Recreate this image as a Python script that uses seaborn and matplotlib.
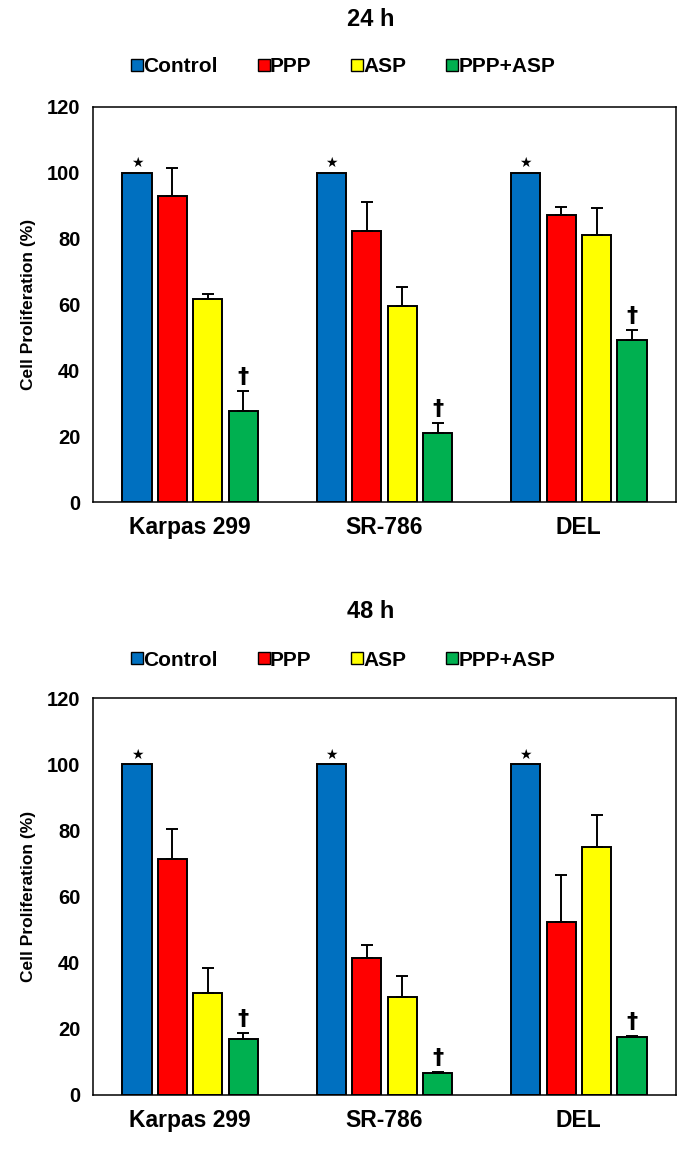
import pandas as pd
import numpy as np
import matplotlib
matplotlib.use('Agg')
import matplotlib.pyplot as plt
from matplotlib.lines import Line2D
import seaborn as sns

# data
cell_lines = ['Karpas 299', 'SR-786', 'DEL']
treatments = ['Control', 'PPP', 'ASP', 'PPP+ASP']
colors = ['#0070C0', '#FF0000', '#FFFF00', '#00B050']

control_24h = [100, 100, 100]
ppp_24h = [92.9, 82.4, 87.3]
asp_24h = [61.6, 59.5, 81.1]
combo_24h = [27.5, 20.9, 49.2]
control_err_24h = [0, 0, 0]
ppp_err_24h = [8.5, 8.8, 2.4]
asp_err_24h = [1.7, 5.9, 8.1]
combo_err_24h = [6.3, 3.1, 3.2]

control_48h = [100, 100, 100]
ppp_48h = [71.3, 41.5, 52.3]
asp_48h = [30.9, 29.5, 74.9]
combo_48h = [16.9, 6.5, 17.5]
control_err_48h = [0, 0, 0]
ppp_err_48h = [9.1, 3.8, 14.1]
asp_err_48h = [7.4, 6.5, 9.7]
combo_err_48h = [1.9, 0.6, 0.3]

panels = [
    ('24 h', [control_24h, ppp_24h, asp_24h, combo_24h],
     [control_err_24h, ppp_err_24h, asp_err_24h, combo_err_24h]),
    ('48 h', [control_48h, ppp_48h, asp_48h, combo_48h],
     [control_err_48h, ppp_err_48h, asp_err_48h, combo_err_48h]),
]

sns.set_style('white')
plt.rcParams['font.family'] = ['Liberation Sans', 'DejaVu Sans']
plt.rcParams['font.weight'] = 'bold'
for key in ['text.color', 'axes.labelcolor', 'xtick.color', 'ytick.color']:
    plt.rcParams[key] = 'black'

fig = plt.figure(figsize=(6.85, 11.49), dpi=100)
W, H = 685, 1149

# axes boxes in pixels: (left, top, right, bottom)
boxes = [(93, 107, 676, 502), (93, 698, 676, 1095)]
title_y = [20, 612]
legend_y = [67, 660]

for (title, means, errs), box, ty, ly in zip(panels, boxes, title_y, legend_y):
    l, t, r, b = box
    ax = fig.add_axes([l / W, 1 - b / H, (r - l) / W, (b - t) / H])

    rows = []
    for tr, vals in zip(treatments, means):
        for cl, v in zip(cell_lines, vals):
            rows.append({'line': cl, 'treatment': tr, 'value': v})
    df = pd.DataFrame(rows)

    sns.barplot(data=df, x='line', y='value', hue='treatment', order=cell_lines,
                hue_order=treatments, palette=dict(zip(treatments, colors)),
                saturation=1, width=0.73, gap=0.18, errorbar=None,
                edgecolor='black', linewidth=1.4, legend=False, ax=ax)

    # upper error bars, stars and daggers
    for k, (cont, err) in enumerate(zip(ax.containers, errs)):
        xs = [p.get_x() + p.get_width() / 2 for p in cont]
        ys = [p.get_height() for p in cont]
        if k > 0:
            ax.errorbar(xs, ys, yerr=[np.zeros(len(err)), err], fmt='none',
                        ecolor='black', elinewidth=1.4, capsize=4, capthick=1.4)
        for x, y, e in zip(xs, ys, err):
            if k == 0:
                ax.text(x, y + 0.8, '★', ha='center', va='bottom', fontsize=10,
                        family='DejaVu Sans')
            elif k == 3:
                ax.text(x, y + e + 1.2, '†', ha='center', va='bottom',
                        fontsize=16, fontweight='bold', family='DejaVu Sans')

    ax.set_ylim(0, 120)
    ax.set_xlim(-0.5, 2.5)
    ax.set_yticks(np.arange(0, 121, 20))
    ax.set_yticks(np.arange(10, 120, 20), minor=True)
    ax.set_xticks(range(len(cell_lines)))
    ax.set_xticklabels(cell_lines, fontsize=16.5, fontweight='bold')
    ax.set_xticks([0.5, 1.5, 2.5], minor=True)
    ax.tick_params(axis='x', which='major', length=0, pad=10)
    ax.tick_params(axis='x', which='minor', direction='inout', length=9, width=1)
    ax.tick_params(axis='y', which='major', direction='out', length=6, width=1,
                   labelsize=14.5, pad=3)
    ax.tick_params(axis='y', which='minor', direction='inout', length=7, width=1)
    for lab in ax.get_yticklabels():
        lab.set_fontweight('bold')
    ax.set_xlabel('')
    ax.set_ylabel('Cell Proliferation (%)', fontsize=12.5, fontweight='bold',
                  labelpad=8)
    for s in ax.spines.values():
        s.set_visible(True)
        s.set_color('black')
        s.set_linewidth(1.1)

    fig.text(371 / W, 1 - ty / H, title, ha='center', va='center',
             fontsize=17, fontweight='bold')

    handles = [Line2D([0], [0], marker='s', linestyle='none', markersize=9,
                      markerfacecolor=c, markeredgecolor='black',
                      markeredgewidth=1.0) for c in colors]
    fig.legend(handles, treatments, loc='center', ncol=4,
               bbox_to_anchor=(340 / W, 1 - ly / H), frameon=False,
               prop={'size': 15, 'weight': 'bold'}, handletextpad=-0.3,
               columnspacing=1.6, handlelength=1.2)

fig.savefig('out.png', dpi=100)
